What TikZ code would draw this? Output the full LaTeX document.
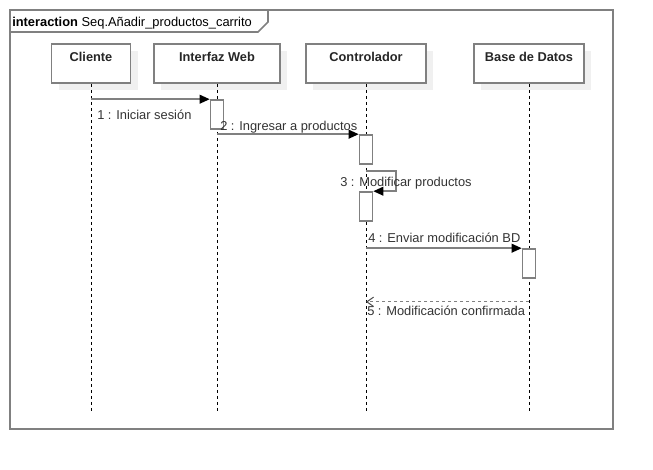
\documentclass[tikz,border=0pt]{standalone}
\usepackage{fontspec}
\setmainfont{Liberation Sans}
\usetikzlibrary{arrows.meta, positioning, shadows}

\tikzset{
    frame/.style={draw=gray, line width=1.2pt},
    head/.style={draw=gray, line width=1.2pt, fill=white, font=\fontsize{9.6pt}{11pt}\selectfont\bfseries, text=black!85,
        inner ysep=0pt, text height=13.2pt, text depth=16.05pt,
        general shadow={fill=black!6, draw=none, shadow xshift=5.25pt, shadow yshift=-5.25pt}},
    life/.style={dash pattern=on 2.25pt off 2.25pt, line width=0.75pt},
    act/.style={draw=gray, line width=1.2pt, fill=white, minimum width=9.75pt, minimum height=21.75pt, inner sep=0pt},
    msg/.style={draw=gray, line width=1.2pt, -{Triangle[length=7.5pt,width=6.5pt,black]}},
    ret/.style={draw=gray, line width=1pt, dash pattern=on 2.25pt off 2.25pt,
        -{Straight Barb[length=5pt,width=7pt,black!70,line width=0.75pt]}},
    lbl/.style={anchor=base west, inner sep=0pt, text=black!80, font=\fontsize{9.65pt}{11pt}\selectfont}
}

\begin{document}
\begin{tikzpicture}[x=0.75pt, y=-0.75pt]
    \useasboundingbox (0,0) rectangle (653,469);

    % frame and its tab
    \draw[frame] (10,10) rectangle (613,429);
    \draw[frame] (10,32) -- (258,32) -- (268,22) -- (268,10);
    \node[lbl, text=black] (ttl) at (12,26) {\textbf{interaction} Seq.Añadir\_productos\_carrito};

    % lifeline heads
    \node[head, minimum width=59.25pt] (cli) at (91,63.5) {Cliente};
    \node[head, minimum width=94.5pt] (web) at (217,63.5) {Interfaz Web};
    \node[head, minimum width=90pt] (ctl) at (366,63.5) {Controlador};
    \node[head, minimum width=82.5pt] (bd) at (529,63.5) {Base de Datos};

    \coordinate (bottom) at (0,411);
    \foreach \n in {cli,web,ctl,bd}
        \draw[life] (\n.south) -- (\n.south |- bottom);

    % activations
    \node[act] (a1) at (217,114.5) {};
    \node[act] (a2) at (366,149.5) {};
    \node[act] (a3) at (366,206.5) {};
    \node[act] (a4) at (529,263.5) {};

    % messages
    \draw[msg] (cli |- a1.north) -- (a1.north west);
    \node[lbl] (l1) at (97,119) {1 : Iniciar sesión};

    \draw[msg] (web |- a2.north) -- (a2.north west);
    \node[lbl] (l2) at (220,130) {2 : Ingresar a productos};

    \draw[msg] (ctl |- a3.north) ++(0,-20) -| ++(30,20) -- (a3.north east);
    \node[lbl] (l3) at (340,186) {3 : Modificar productos};

    \draw[msg] (ctl |- a4.north) -- (a4.north west);
    \node[lbl] (l4) at (368,242) {4 : Enviar modificación BD};

    \draw[ret] (a4.south) ++(0,23) coordinate (r5) -- (ctl |- r5);
    \node[lbl] (l5) at (367,315) {5 : Modificación confirmada};

\end{tikzpicture}
\end{document}
